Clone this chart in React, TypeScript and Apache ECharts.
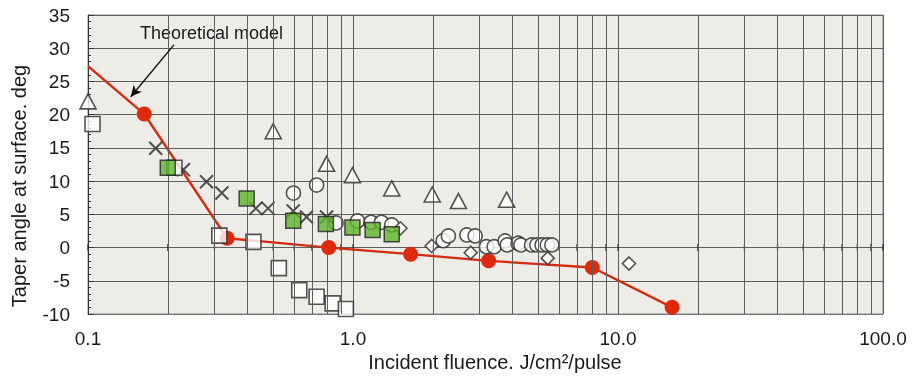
import React, { useEffect, useRef } from "react";
import * as echarts from "echarts";

// Theoretical model (red line with markers); first point has no marker
const modelX = [0.1, 0.163, 0.335, 0.81, 1.65, 3.25, 8.0, 16.0];
const modelY = [27.3, 20.1, 1.4, 0.0, -1.0, -2.0, -3.0, -9.0];

const triX = [0.1, 0.5, 0.795, 0.995, 1.4, 1.99, 2.5, 3.8];
const triY = [22.0, 17.5, 12.6, 10.9, 8.9, 8.0, 7.0, 7.2];

const sqX = [0.104, 0.212, 0.313, 0.421, 0.525, 0.627, 0.729, 0.838, 0.94];
const sqY = [18.6, 12.0, 1.8, 0.85, -3.1, -6.4, -7.4, -8.4, -9.25];

const crossX = [0.18, 0.229, 0.28, 0.32, 0.43, 0.478, 0.595, 0.668, 0.795];
const crossY = [14.95, 11.7, 9.9, 8.2, 5.9, 5.9, 5.5, 4.6, 4.6];

const circX = [0.596, 0.729, 0.863, 1.04, 1.17, 1.28, 1.4, 2.19, 2.29, 2.69, 2.89, 3.19, 3.41, 3.75, 3.82, 4.2, 4.3, 4.72, 4.94, 5.17, 5.41, 5.63];
const circY = [8.2, 9.4, 3.7, 4.0, 3.8, 3.8, 3.4, 1.04, 1.75, 1.9, 1.75, 0.13, 0.13, 1.0, 0.4, 0.65, 0.4, 0.4, 0.4, 0.4, 0.4, 0.4];

const greenX = [0.2, 0.397, 0.595, 0.79, 0.995, 1.186, 1.4];
const greenY = [12.0, 7.4, 4.05, 3.55, 3.0, 2.65, 2.0];

const diaX = [1.51, 1.98, 2.78, 5.43, 11.0];
const diaY = [2.9, 0.24, -0.77, -1.6, -2.4];

// Vertical grid lines (log sub-divisions) and tick positions on the zero line
const vGrid = [0.2, 0.3, 0.4, 0.5, 0.6, 0.7, 0.8, 0.9, 2, 3, 4, 5, 6, 7, 8, 9, 20, 30, 40, 50, 60, 70, 80, 90];
const zeroTicks = [0.1, 0.2, 0.3, 0.4, 0.5, 0.6, 0.7, 0.8, 0.9, 1, 2, 3, 4, 5, 6, 7, 8, 9, 10, 20, 30, 40, 50, 60, 70, 80, 90, 100];

const arrowFrom = [0.211, 30.5];
const arrowTo = [0.145, 22.7];

const FONT = '"Liberation Sans", Arial, sans-serif';
const GRIDC = "#5e5e5e";
const zip = (xs: number[], ys: number[]) => xs.map((x, i) => [x, ys[i]]);

export default function App() {
  const ref = useRef<HTMLDivElement>(null);
  useEffect(() => {
    const chart = echarts.init(ref.current!, null, { renderer: "svg" });
    const open = { color: "#ffffff", borderColor: "#2b2b2b", borderWidth: 1.6 };
    chart.setOption({
      animation: false,
      textStyle: { fontFamily: FONT },
      grid: {
        left: 88, right: 29, top: 15, bottom: 63,
        show: true, backgroundColor: "#edece6", borderColor: "#8a8a8a", borderWidth: 1,
      },
      xAxis: {
        type: "log", logBase: 10, min: 0.1, max: 100,
        axisLine: { show: true, onZero: false, lineStyle: { color: "#777" } },
        axisTick: { show: false },
        splitLine: { show: true, lineStyle: { color: GRIDC, width: 1 } },
        axisLabel: {
          formatter: (v: number) => Number(v).toFixed(1),
          fontSize: 19, color: "#1a1a1a", margin: 15, fontFamily: FONT,
        },
      },
      yAxis: {
        type: "value", min: -10, max: 35, interval: 5,
        axisLine: { show: true, lineStyle: { color: "#333" } },
        axisTick: { show: true, inside: true, length: 6, lineStyle: { color: "#333" } },
        minorTick: { show: true, splitNumber: 5, length: 3, lineStyle: { color: "#333" } },
        splitLine: { show: true, lineStyle: { color: GRIDC, width: 1 } },
        axisLabel: { fontSize: 19, color: "#1a1a1a", margin: 18, fontFamily: FONT },
      },
      graphic: [
        {
          type: "text", x: 140, y: 33,
          style: { text: "Theoretical model", fontSize: 18, fontFamily: FONT, fill: "#1a1a1a", textVerticalAlign: "middle" },
        },
        {
          type: "text", x: 19, y: 186, rotation: Math.PI / 2,
          style: { text: "Taper angle at surface. deg", fontSize: 20, fontFamily: FONT, fill: "#1a1a1a", textAlign: "center", textVerticalAlign: "middle" },
        },
        {
          type: "text", x: 495, y: 362,
          style: { text: "Incident fluence. J/cm²/pulse", fontSize: 20, fontFamily: FONT, fill: "#1a1a1a", textAlign: "center", textVerticalAlign: "middle" },
        },
      ],
      series: [
        {
          type: "scatter", name: "ticks", silent: true, z: 1,
          data: zeroTicks.map((v) => [v, 0]),
          symbol: "rect", symbolSize: [1.3, 7],
          itemStyle: { color: "#222" },
          markLine: {
            silent: true, symbol: "none", label: { show: false },
            lineStyle: { color: GRIDC, width: 1, type: "solid" },
            data: vGrid.map((v) => ({ xAxis: v })),
          },
        },
        {
          type: "line", name: "model", z: 2,
          data: modelX.map((x, i) => (i === 0 ? { value: [x, modelY[i]], symbol: "none" } : [x, modelY[i]])),
          symbol: "circle", symbolSize: 15, showAllSymbol: true,
          itemStyle: { color: "#dd2a0d" },
          lineStyle: { color: "#d52c10", width: 2.3 },
        },
        {
          type: "scatter", name: "circles", z: 3,
          data: zip(circX, circY), symbol: "circle", symbolSize: 14, itemStyle: open,
        },
        {
          type: "scatter", name: "crosses", z: 3,
          data: zip(crossX, crossY),
          symbol: "path://M0,0L10,10M10,0L0,10", symbolSize: 13,
          itemStyle: { color: "none", borderColor: "#2b2b2b", borderWidth: 2 },
        },
        {
          type: "scatter", name: "triangles", z: 3,
          data: zip(triX, triY), symbol: "triangle", symbolSize: [16, 15], itemStyle: open,
          markLine: {
            silent: true, symbol: ["none", "arrow"], symbolSize: [8, 11],
            label: { show: false },
            lineStyle: { color: "#111", width: 1.4, type: "solid" },
            data: [[{ coord: arrowFrom }, { coord: arrowTo }]],
          },
        },
        {
          type: "scatter", name: "diamonds", z: 3,
          data: zip(diaX, diaY), symbol: "diamond", symbolSize: 13, itemStyle: open,
        },
        {
          type: "scatter", name: "squares", z: 4,
          data: zip(sqX, sqY), symbol: "rect", symbolSize: 15, itemStyle: open,
        },
        {
          type: "scatter", name: "green", z: 5,
          data: zip(greenX, greenY), symbol: "rect", symbolSize: 15,
          itemStyle: { color: "#5cb42a", borderColor: "#222", borderWidth: 1.5 },
        },
      ],
    });
    return () => chart.dispose();
  }, []);
  return <div ref={ref} style={{ position: "fixed", left: 0, top: 0, width: 912, height: 377 }} />;
}
